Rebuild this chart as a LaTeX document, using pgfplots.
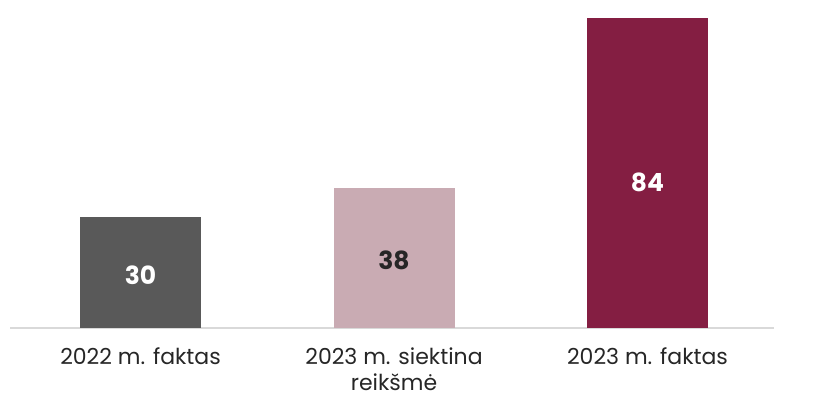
\documentclass[border=0pt]{standalone}
\usepackage{pgfplots}
\pgfplotsset{compat=1.18}
\usepackage{fontspec}
\setmainfont{Poppins}
\definecolor{cgray}{HTML}{595959}
\definecolor{cpink}{HTML}{C9ABB3}
\definecolor{cmaroon}{HTML}{841E42}
\definecolor{cline}{HTML}{D9D9D9}
\definecolor{ctext}{HTML}{262626}
\begin{document}
\begin{tikzpicture}
\useasboundingbox (0,0) rectangle (824bp,400bp);
\begin{axis}[
  at={(10bp,72bp)}, anchor=south west,
  scale only axis, width=764bp, height=328bp,
  xmin=-0.515, xmax=2.499, ymin=0, ymax=88.9,
  axis y line=none, axis x line*=bottom,
  x axis line style={draw=cline, line width=1.5bp, -},
  xtick={0,1,2}, major tick length=0pt,
  xticklabels={2022 m. faktas, 2023 m. siektina\\reikšmė, 2023 m. faktas},
  xticklabel style={font=\fontsize{22bp}{26bp}\selectfont, text=ctext, align=center, yshift=-16bp},
  ybar, bar width=121bp, bar shift=0pt,
  nodes near coords,
  /pgf/number format/assume math mode=true,
  nodes near coords style={font=\fontsize{25bp}{28bp}\selectfont\bfseries, anchor=center},
  clip=false,
]
\addplot[fill=cgray, draw=none, nodes near coords style={text=white, yshift=-58bp}] coordinates {(0,30)};
\addplot[fill=cpink, draw=none, nodes near coords style={text=ctext, yshift=-73bp}] coordinates {(1,38)};
\addplot[fill=cmaroon, draw=none, nodes near coords style={text=white, yshift=-164bp}] coordinates {(2,84)};
\end{axis}
\end{tikzpicture}
\end{document}
